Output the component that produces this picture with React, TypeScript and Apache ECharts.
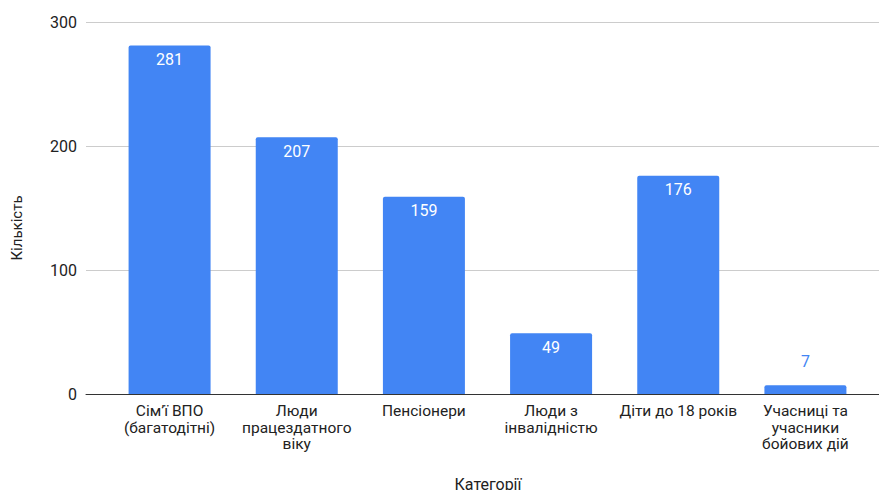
import React, { useEffect, useRef } from "react";
import * as echarts from "echarts";

const categories = [
  "Сім’ї ВПО\n(багатодітні)",
  "Люди\nпрацездатного\nвіку",
  "Пенсіонери",
  "Люди з\nінвалідністю",
  "Діти до 18 років",
  "Учасниці та\nучасники\nбойових дій",
];
const values = [281, 207, 159, 49, 176, 7];
const yTicks = { min: 0, max: 300, interval: 100 };
const xTitle = "Категорії";
const yTitle = "Кількість";

const BLUE = "#4285F4";
const FONT = "Roboto, Arial, sans-serif";

export default function App() {
  const ref = useRef<HTMLDivElement>(null);
  useEffect(() => {
    if (!ref.current) return;
    const chart = echarts.init(ref.current, undefined, { renderer: "svg" });
    chart.setOption({
      animation: false,
      backgroundColor: "#ffffff",
      textStyle: { fontFamily: FONT },
      grid: [
        { left: 86, right: 0, top: 22, bottom: 96 },
        { left: 106, right: 10, top: 22, bottom: 96 },
      ],
      xAxis: [
        {
          gridIndex: 0,
          type: "category",
          data: [""],
          axisLine: { show: true, lineStyle: { color: "#333333", width: 1 } },
          axisTick: { show: false },
          axisLabel: { show: false },
          z: 5,
        },
        {
          gridIndex: 1,
          type: "category",
          data: categories,
          axisLine: { show: false },
          axisTick: { show: false },
          axisLabel: {
            interval: 0,
            color: "#222222",
            fontSize: 15.5,
            fontFamily: FONT,
            lineHeight: 16.5,
            margin: 9,
          },
        },
      ],
      yAxis: [
        {
          gridIndex: 0,
          type: "value",
          min: yTicks.min,
          max: yTicks.max,
          interval: yTicks.interval,
          axisLine: { show: false },
          axisTick: { show: false },
          axisLabel: { color: "#222222", fontSize: 16, fontFamily: FONT, margin: 9 },
          splitLine: { show: true, lineStyle: { color: "#cccccc", width: 1 } },
        },
        {
          gridIndex: 1,
          type: "value",
          min: yTicks.min,
          max: yTicks.max,
          interval: yTicks.interval,
          show: false,
          splitLine: { show: false },
        },
      ],
      series: [
        {
          type: "bar",
          xAxisIndex: 1,
          yAxisIndex: 1,
          barWidth: 82,
          itemStyle: { color: BLUE, borderRadius: [2, 2, 0, 0] },
          label: {
            show: true,
            position: "insideTop",
            distance: 6,
            color: "#ffffff",
            fontSize: 16,
            fontFamily: FONT,
          },
          data: values.map((v) =>
            v < 20
              ? {
                  value: v,
                  label: { position: "top", distance: 16, color: BLUE },
                }
              : v
          ),
          z: 3,
        },
      ],
      graphic: [
        {
          type: "text",
          x: 17,
          y: 228,
          rotation: Math.PI / 2,
          style: {
            text: yTitle,
            fill: "#222222",
            fontSize: 15,
            fontFamily: FONT,
            textAlign: "center",
            textVerticalAlign: "middle",
          },
        },
        {
          type: "text",
          x: 488,
          y: 484,
          style: {
            text: xTitle,
            fill: "#222222",
            fontSize: 16,
            fontFamily: FONT,
            textAlign: "center",
            textVerticalAlign: "middle",
          },
        },
      ],
    });
    return () => chart.dispose();
  }, []);
  return (
    <div
      ref={ref}
      style={{ position: "fixed", left: 0, top: 0, width: 879, height: 490 }}
    />
  );
}
